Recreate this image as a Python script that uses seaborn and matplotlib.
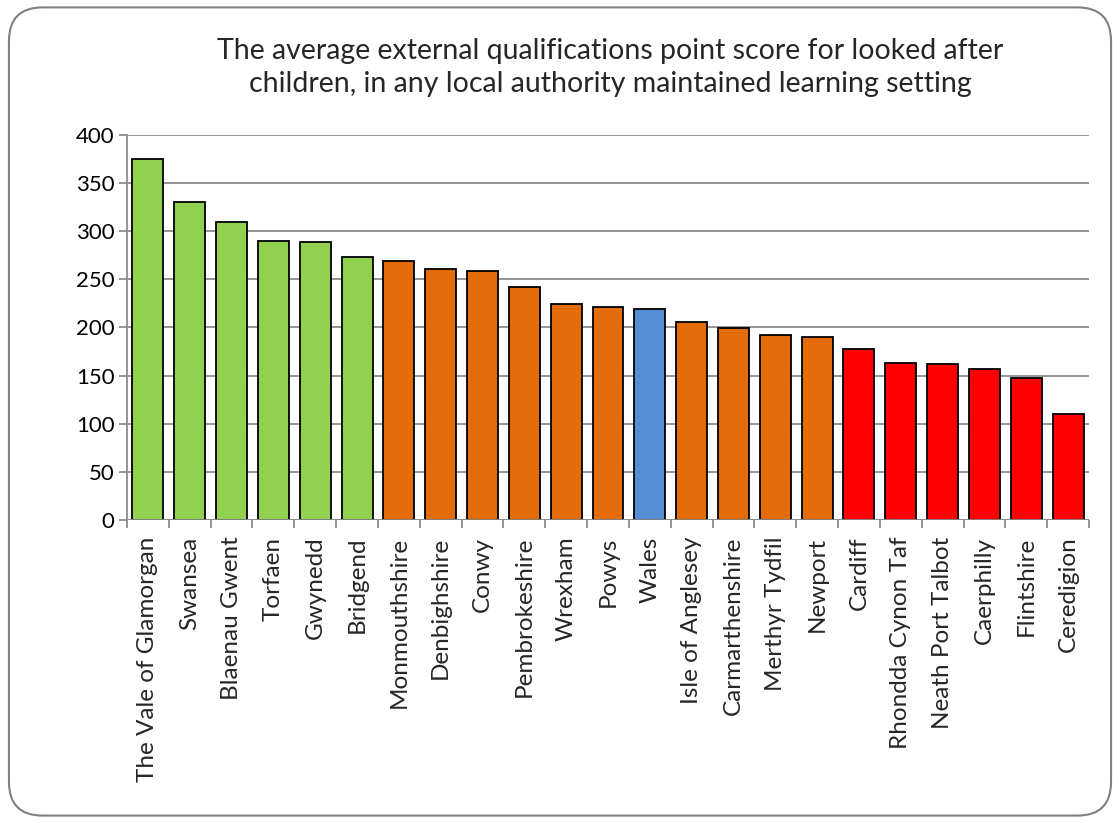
import pandas as pd
import numpy as np
import matplotlib.pyplot as plt
import seaborn as sns
from matplotlib.patches import FancyBboxPatch
from matplotlib.ticker import FixedLocator, NullFormatter

# データ
areas = ["The Vale of Glamorgan", "Swansea", "Blaenau Gwent", "Torfaen", "Gwynedd",
         "Bridgend", "Monmouthshire", "Denbighshire", "Conwy", "Pembrokeshire",
         "Wrexham", "Powys", "Wales", "Isle of Anglesey", "Carmarthenshire",
         "Merthyr Tydfil", "Newport", "Cardiff", "Rhondda Cynon Taf",
         "Neath Port Talbot", "Caerphilly", "Flintshire", "Ceredigion"]
scores = [375, 330, 309, 290, 289, 273, 269, 261, 258, 242, 224, 221, 219,
          206, 199, 192, 190, 177, 163, 162, 157, 147, 110]
groups = ["top"] * 6 + ["mid"] * 6 + ["wales"] + ["mid"] * 4 + ["low"] * 6
group_colors = {"top": "#92D050", "mid": "#E36C09", "wales": "#558ED5", "low": "#FF0000"}

df = pd.DataFrame({"area": areas, "score": scores, "group": groups})

sns.set_style("white")
plt.rcParams["font.family"] = ["Lato", "DejaVu Sans"]

fig = plt.figure(figsize=(11.2, 8.23), dpi=100)
ax = fig.add_axes([0.1134, 0.3682, 0.8589, 0.4681])

sns.barplot(data=df, x="area", y="score", hue="group", palette=group_colors,
            dodge=False, legend=False, width=0.74, edgecolor="black",
            linewidth=1.3, saturation=1, ax=ax, zorder=3)

ax.set_ylim(0, 400)
ax.set_xlim(-0.5, len(areas) - 0.5)
ax.set_yticks(range(0, 401, 50))
ax.yaxis.grid(True, color="#8c8c8c", linewidth=1.3, zorder=0)
ax.set_axisbelow(True)
for s in ["top", "right", "bottom"]:
    ax.spines[s].set_visible(False)
ax.spines["left"].set_color("#8c8c8c")
ax.spines["left"].set_linewidth(1.3)
ax.axhline(0, color="#8c8c8c", linewidth=1.3, zorder=4)

ax.tick_params(axis="y", left=True, length=6, width=1.3, color="#8c8c8c",
               labelsize=16, pad=3, labelcolor="black")
ax.set_xticks(range(len(areas)))
ax.set_xticklabels(areas, rotation=90, fontsize=17.5)
ax.tick_params(axis="x", which="major", length=0, pad=12)
ax.xaxis.set_minor_locator(FixedLocator(np.arange(-0.5, len(areas), 1.0)))
ax.xaxis.set_minor_formatter(NullFormatter())
ax.tick_params(axis="x", which="minor", bottom=True, length=6, width=1.3, color="#8c8c8c")
ax.set_xlabel("")
ax.set_ylabel("")

fig.text(0.5446, 0.918,
         "The average external qualifications point score for looked after\n"
         "children, in any local authority maintained learning setting",
         ha="center", va="center", fontsize=20.5, linespacing=1.35)

frame = FancyBboxPatch((0.008, 0.009), 0.984, 0.982, transform=fig.transFigure,
                       boxstyle="round,pad=0,rounding_size=0.03",
                       facecolor="none", edgecolor="#808080", linewidth=1.5,
                       mutation_aspect=1120 / 823)
fig.patches.append(frame)

plt.savefig("out.png", dpi=100)
plt.close()
